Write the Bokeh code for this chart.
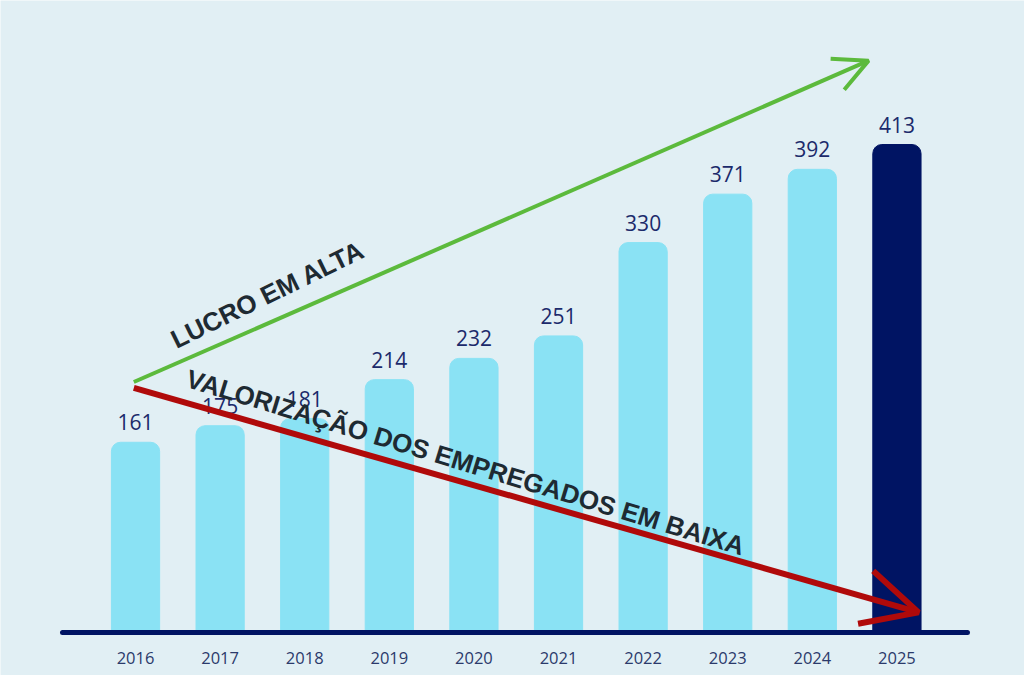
import math
from bokeh.plotting import figure
from bokeh.models import ColumnDataSource, Range1d, Arrow, OpenHead
from bokeh.core.properties import value
from bokeh.embed import file_html
from bokeh.resources import INLINE

# Profit figures per year
years = ["2016", "2017", "2018", "2019", "2020", "2021", "2022", "2023", "2024", "2025"]
profit = [161, 175, 181, 214, 232, 251, 330, 371, 392, 413]

BG = "#e1eff4"
LIGHT = "#8ae2f4"
NAVY = "#001463"
LABEL = "#1b2a6b"

xs = list(range(len(years)))
colors = [LIGHT] * (len(years) - 1) + [NAVY]

src = ColumnDataSource(dict(x=xs, top=profit, year=years,
                            label=[str(v) for v in profit], color=colors))

p = figure(width=1024, height=675, output_backend="svg", toolbar_location=None,
           x_range=Range1d(-1.596, 10.508), y_range=Range1d(-36.4, 534.9),
           min_border=0, background_fill_color=BG, border_fill_color=BG,
           outline_line_color=None)
p.xaxis.visible = False
p.yaxis.visible = False
p.xgrid.visible = False
p.ygrid.visible = False

p.vbar(x="x", top="top", bottom=0, width=0.57, color="color", source=src,
       border_radius=(9, 9, 0, 0))

# base line
p.segment(x0=[-0.863], y0=[0], x1=[9.834], y1=[0], line_color=NAVY,
          line_width=5, line_cap="round")

p.text(x="x", y="top", text="label", source=src, text_align="center",
       text_baseline="bottom", y_offset=-12, text_font=value("Open Sans"),
       text_font_size="21px", text_color=LABEL)

p.text(x="x", y=-21.2, text="year", source=src, text_align="center",
       text_baseline="middle", text_font=value("Open Sans"),
       text_font_size="16.5px", text_color="#2b3a6b")

# trend arrows
p.add_layout(Arrow(x_start=-0.02, y_start=212, x_end=8.665, y_end=484,
                   line_color="#5cba3c", line_width=4,
                   end=OpenHead(size=34, line_color="#5cba3c", line_width=4)))
p.add_layout(Arrow(x_start=-0.02, y_start=207, x_end=9.255, y_end=17,
                   line_color="#b00a0a", line_width=6,
                   end=OpenHead(size=55, line_color="#b00a0a", line_width=6)))

p.text(x=[1.56], y=[286], text=["LUCRO EM ALTA"], angle=26 * math.pi / 180,
       text_align="center", text_baseline="middle",
       text_font=value("Liberation Sans"), text_font_style="bold",
       text_font_size="26px", text_color="#1e2a32")
p.text(x=[3.9], y=[144], text=["VALORIZAÇÃO DOS EMPREGADOS EM BAIXA"],
       angle=-16.9 * math.pi / 180, text_align="center", text_baseline="middle",
       text_font=value("Liberation Sans"), text_font_style="bold",
       text_font_size="26px", text_color="#1e2a32")

open("out.html", "w").write(file_html(p, INLINE))
